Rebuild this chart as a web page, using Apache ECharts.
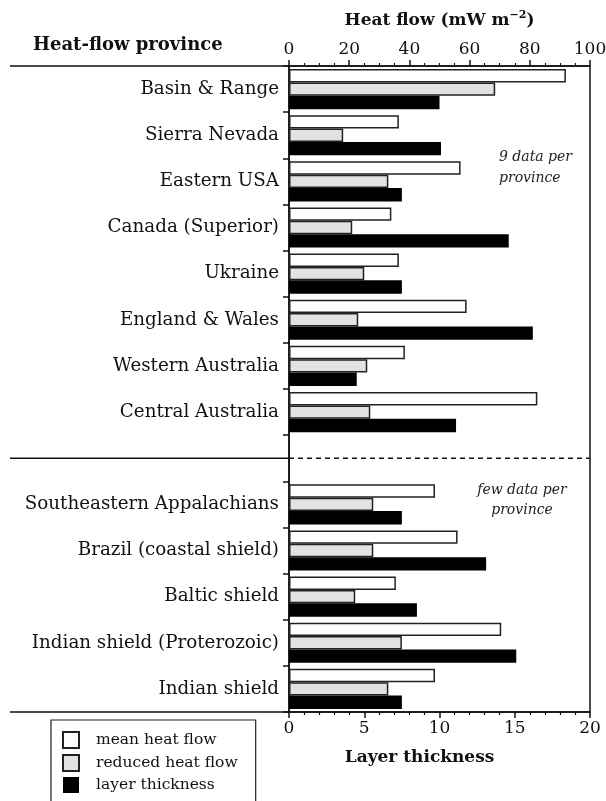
<!DOCTYPE html>
<html>
<head>
<meta charset="utf-8">
<script src="https://cdn.jsdelivr.net/npm/echarts@6/dist/echarts.min.js"></script>
<style>html,body{margin:0;padding:0;background:#fff;overflow:hidden;}#chart{width:606px;height:801px;}</style>
</head>
<body>
<div id="chart"></div>
<script>
const provinces = ["Basin & Range","Sierra Nevada","Eastern USA","Canada (Superior)","Ukraine","England & Wales","Western Australia","Central Australia","","Southeastern Appalachians","Brazil (coastal shield)","Baltic shield","Indian shield (Proterozoic)","Indian shield"];
const meanHeatFlow = [92, 36.5, 57, 34, 36.5, 59, 38.5, 82.5, null, 48.5, 56, 35.5, 70.5, 48.5];
const reducedHeatFlow = [68.5, 18, 33, 21, 25, 23, 26, 27, null, 28, 28, 22, 37.5, 33];
const layerThickness = [10, 10.1, 7.5, 14.6, 7.5, 16.2, 4.5, 11.1, null, 7.5, 13.1, 8.5, 15.1, 7.5];
const heatFlowTicks = {min: 0, max: 100, interval: 20};
const thicknessTicks = {min: 0, max: 20, interval: 5};

const FONT = 'DejaVu Serif';
const G = {left: 289, right: 16, top: 66, bottom: 89};
const chart = echarts.init(document.getElementById('chart'), null, {renderer: 'canvas'});

const option = {
  animation: false,
  backgroundColor: '#fff',
  textStyle: {fontFamily: FONT, color: '#111'},
  grid: {left: G.left, right: G.right, top: G.top, bottom: G.bottom, show: true, borderColor: '#111', borderWidth: 1.5, containLabel: false, outerBoundsMode: 'none'},
  legend: {
    orient: 'vertical', left: 51, top: 720, height: 110, icon: 'rect',
    itemWidth: 16, itemHeight: 16, itemGap: 5,
    borderColor: '#222', borderWidth: 1.2, borderRadius: 0,
    padding: [11, 18, 40, 11],
    textStyle: {fontFamily: FONT, fontSize: 15.5, color: '#111', padding: [0, 0, 0, 12]},
    data: ['mean heat flow', 'reduced heat flow', 'layer thickness']
  },
  xAxis: [
    {
      type: 'value', position: 'top', min: heatFlowTicks.min, max: heatFlowTicks.max, interval: heatFlowTicks.interval,
      axisLine: {show: true, lineStyle: {color: '#111', width: 1.5}},
      axisTick: {show: true, length: 6, lineStyle: {color: '#111', width: 1.5}},
      minorTick: {show: true, splitNumber: 4, length: 3, lineStyle: {color: '#111', width: 1.2}},
      splitLine: {show: false},
      axisLabel: {fontFamily: FONT, fontSize: 17, color: '#111', margin: 8},
      name: '{t|Heat flow (mW m}{s|−2}{t|)}',
      nameLocation: 'middle', nameGap: 35,
      nameTextStyle: {rich: {
        t: {fontFamily: FONT, fontWeight: 'bold', fontSize: 17, color: '#111'},
        s: {fontFamily: FONT, fontWeight: 'bold', fontSize: 11, color: '#111', padding: [0, 0, 10, 0]}
      }}
    },
    {
      type: 'value', position: 'bottom', min: thicknessTicks.min, max: thicknessTicks.max, interval: thicknessTicks.interval,
      axisLine: {show: true, lineStyle: {color: '#111', width: 1.5}},
      axisTick: {show: true, length: 6, lineStyle: {color: '#111', width: 1.5}},
      minorTick: {show: true, splitNumber: 5, length: 3, lineStyle: {color: '#111', width: 1.2}},
      splitLine: {show: false},
      axisLabel: {fontFamily: FONT, fontSize: 17, color: '#111', margin: 8},
      name: 'Layer thickness',
      nameLocation: 'middle', nameGap: 37,
      nameTextStyle: {fontFamily: FONT, fontWeight: 'bold', fontSize: 17, color: '#111', padding: [0, 40, 0, 0]}
    }
  ],
  yAxis: {
    type: 'category', data: provinces, inverse: true,
    axisLine: {show: true, lineStyle: {color: '#111', width: 1.5}},
    axisTick: {show: true, length: 6, interval: 0, lineStyle: {color: '#111', width: 1.5}},
    axisLabel: {fontFamily: FONT, fontSize: 18.3, color: '#111', margin: 10, interval: 0}
  },
  series: [
    {name: 'mean heat flow', type: 'bar', xAxisIndex: 0, data: meanHeatFlow, barGap: '0%', barCategoryGap: '13%',
     itemStyle: {color: '#fff', borderColor: '#222', borderWidth: 1.5}},
    {name: 'reduced heat flow', type: 'bar', xAxisIndex: 0, data: reducedHeatFlow, barGap: '0%', barCategoryGap: '13%',
     itemStyle: {color: '#e2e2e2', borderColor: '#222', borderWidth: 1.5}},
    {name: 'layer thickness', type: 'bar', xAxisIndex: 1, data: layerThickness, barGap: '0%', barCategoryGap: '13%',
     itemStyle: {color: '#000', borderColor: '#000', borderWidth: 0}}
  ]
};
chart.setOption(option);

const yDiv = chart.convertToPixel({yAxisIndex: 0}, 8);
const x0 = chart.convertToPixel({xAxisIndex: 0}, 0);
const x100 = chart.convertToPixel({xAxisIndex: 0}, 100);
const yBottom = 801 - G.bottom;
const lineStyle = {stroke: '#111', lineWidth: 1.5};

chart.setOption({
  graphic: [
    {type: 'line', shape: {x1: 10, y1: G.top, x2: x0, y2: G.top}, style: lineStyle, z: 10},
    {type: 'line', shape: {x1: 10, y1: yBottom, x2: x0, y2: yBottom}, style: lineStyle, z: 10},
    {type: 'line', shape: {x1: 10, y1: yDiv, x2: x0, y2: yDiv}, style: lineStyle, z: 10},
    {type: 'line', shape: {x1: x0, y1: yDiv, x2: x100, y2: yDiv}, style: {stroke: '#111', lineWidth: 1.5, lineDash: [5, 4]}, z: 10},
    {type: 'text', x: 33, y: 45, style: {text: 'Heat-flow province', font: 'bold 18px "DejaVu Serif"', fill: '#111', textAlign: 'left', textVerticalAlign: 'middle'}},
    {type: 'text', x: 499, y: 147, style: {text: '9 data per\nprovince', font: 'italic 14px "DejaVu Serif"', fill: '#222', textAlign: 'left', textVerticalAlign: 'top', lineHeight: 21}},
    {type: 'text', x: 522, y: 480, style: {text: 'few data per\nprovince', font: 'italic 14px "DejaVu Serif"', fill: '#222', textAlign: 'center', textVerticalAlign: 'top', lineHeight: 20}}
  ]
});
</script>
</body>
</html>
